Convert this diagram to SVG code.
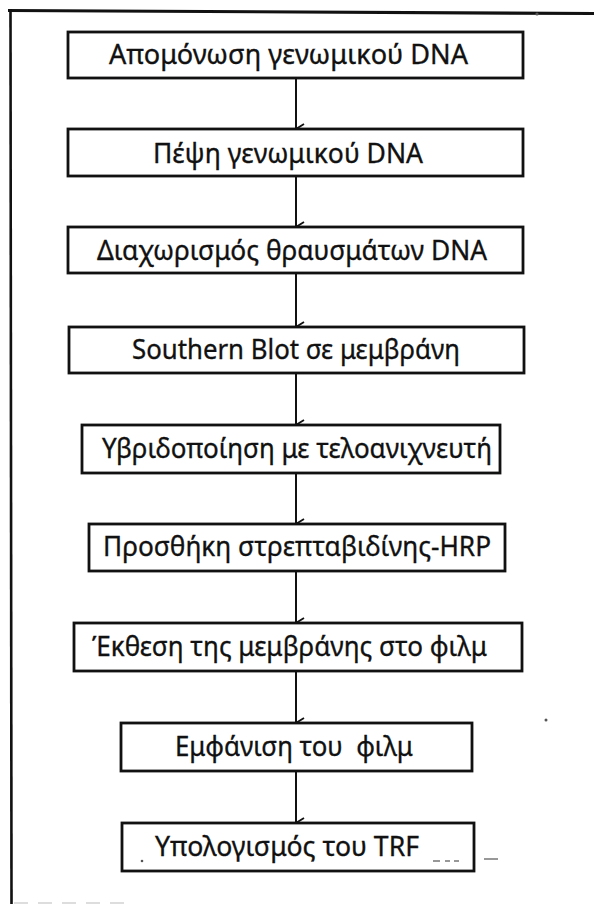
<svg xmlns="http://www.w3.org/2000/svg" width="594" height="904" viewBox="0 0 594 904">
  <defs>
    <marker id="arrow" viewBox="0 0 12 10" refX="6" refY="9" markerWidth="12" markerHeight="10" markerUnits="userSpaceOnUse" orient="auto-start-reverse">
      <path d="M1,1 L6,9 L11,1" fill="none" stroke="#111" stroke-width="1.8"/>
    </marker>
    <style>
      .box { fill: #fff; stroke: #111; stroke-width: 2.8; }
      .lbl { font-family: "Noto Sans", "Open Sans", sans-serif; font-size: 28px; fill: #111; stroke: #111; stroke-width: 0.35; text-anchor: middle; }
      .edge { stroke: #111; stroke-width: 2; fill: none; }
      .frame { stroke: #111; fill: none; }
      .speck { fill: #555; }
    </style>
  </defs>
  <rect width="594" height="904" fill="#fff"/>

  <!-- outer frame: heavy top rule and left rule -->
  <g id="frame">
    <path class="frame" d="M8,10.5 L594,13.5" stroke-width="3.2"/>
    <path class="frame" d="M10.5,9 L11.5,904" stroke-width="2.6"/>
    <path d="M14,903 L130,903" stroke="#bbb" stroke-width="1.2" stroke-dasharray="14 10"/>
    <circle class="speck" cx="537" cy="14" r="1.6"/>
  </g>

  <!-- connectors -->
  <g id="connectors">
    <line class="edge" x1="296" y1="78" x2="296" y2="129" marker-end="url(#arrow)"/>
    <line class="edge" x1="296" y1="176" x2="296" y2="227" marker-end="url(#arrow)"/>
    <line class="edge" x1="296" y1="273" x2="296" y2="327" marker-end="url(#arrow)"/>
    <line class="edge" x1="296" y1="373" x2="296" y2="425" marker-end="url(#arrow)"/>
    <line class="edge" x1="296" y1="473" x2="296" y2="524" marker-end="url(#arrow)"/>
    <line class="edge" x1="296" y1="571" x2="296" y2="623" marker-end="url(#arrow)"/>
    <line class="edge" x1="296" y1="671" x2="296" y2="723" marker-end="url(#arrow)"/>
    <line class="edge" x1="296" y1="771" x2="296" y2="823" marker-end="url(#arrow)"/>
  </g>

  <g id="n1">
    <rect class="box" x="68" y="32" width="455" height="46"/>
    <text class="lbl" x="288.5" y="64" textLength="359" lengthAdjust="spacingAndGlyphs">Απομόνωση γενωμικού DNA</text>
  </g>
  <g id="n2">
    <rect class="box" x="68" y="129" width="455" height="47"/>
    <text class="lbl" x="288" y="163" textLength="270" lengthAdjust="spacingAndGlyphs">Πέψη γενωμικού DNA</text>
  </g>
  <g id="n3">
    <rect class="box" x="68" y="227" width="455" height="46"/>
    <text class="lbl" x="292" y="260" textLength="390" lengthAdjust="spacingAndGlyphs">Διαχωρισμός θραυσμάτων DNA</text>
  </g>
  <g id="n4">
    <rect class="box" x="69" y="327" width="455" height="46"/>
    <text class="lbl" x="296" y="359" textLength="328" lengthAdjust="spacingAndGlyphs">Southern Blot σε μεμβράνη</text>
  </g>
  <g id="n5">
    <rect class="box" x="82" y="425" width="418" height="48"/>
    <text class="lbl" x="297" y="458" textLength="390" lengthAdjust="spacingAndGlyphs">Υβριδοποίηση με τελοανιχνευτή</text>
  </g>
  <g id="n6">
    <rect class="box" x="89" y="524" width="416" height="47"/>
    <text class="lbl" x="297" y="556" textLength="388" lengthAdjust="spacingAndGlyphs">Προσθήκη στρεπταβιδίνης-HRP</text>
  </g>
  <g id="n7">
    <rect class="box" x="74" y="623" width="448" height="48"/>
    <text class="lbl" x="289.5" y="656" textLength="395" lengthAdjust="spacingAndGlyphs">Έκθεση της μεμβράνης στο φιλμ</text>
  </g>
  <g id="n8">
    <rect class="box" x="121" y="723" width="351" height="48"/>
    <text class="lbl" x="294" y="756" textLength="238" lengthAdjust="spacingAndGlyphs" xml:space="preserve">Εμφάνιση του  φιλμ</text>
  </g>
  <g id="n9">
    <rect class="box" x="122" y="823" width="352" height="48"/>
    <text class="lbl" x="287" y="856" textLength="264" lengthAdjust="spacingAndGlyphs">Υπολογισμός του TRF</text>
    <circle class="speck" cx="142" cy="861" r="1.3"/>
    <path d="M433,861 L440,861 M445,861 L450,861 M454,861 L459,861 M484,859 L498,859" stroke="#777" stroke-width="1.5"/>
  </g>

  <circle class="speck" cx="546" cy="720" r="1.5"/>
</svg>
